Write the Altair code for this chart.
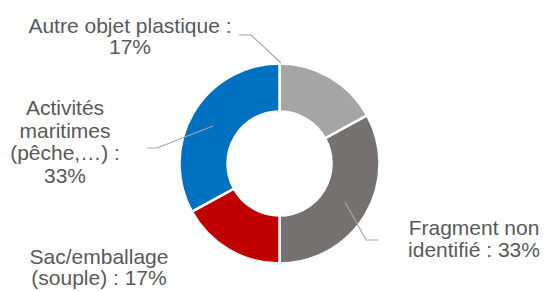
import altair as alt
import pandas as pd

# ---- data ----
categories = ["Autre objet plastique", "Fragment non identifié", "Sac/emballage (souple)", "Activités maritimes (pêche,…)"]
values = [17, 33, 17, 33]
label_texts = [
    ["Autre objet plastique :", "17%"],
    ["Fragment non", "identifié : 33%"],
    ["Sac/emballage", "(souple) : 17%"],
    ["Activités", "maritimes", "(pêche,…) :", "33%"],
]
colors = ["#A5A5A5", "#767171", "#C00000", "#0070C0"]

# ---- layout (page pixel space, converted to chart space by OX/OY) ----
W, H = 533, 283
OX, OY = 8, 8
CX, CY = 279.5 - OX, 163.5 - OY
R_OUT, R_IN = 100, 52
label_pos = [(130, 33), (474, 235), (99, 264), (65, 115)]
line_heights = [21, 21.5, 21, 22.5]
leaders = [
    [(239, 35), (251, 35), (281, 63)],
    [(345, 202), (366, 240), (378, 240)],
    [],
    [(147, 148), (157, 148), (213, 126)],
]

df = pd.DataFrame({"cat": categories, "val": values, "order": list(range(len(values)))})

arcs = alt.Chart(df).mark_arc(
    radius=R_OUT, radius2=R_IN, stroke="white", strokeWidth=2.5
).encode(
    theta=alt.Theta("val:Q", stack=True),
    order=alt.Order("order:Q"),
    color=alt.Color("cat:N", scale=alt.Scale(domain=categories, range=colors), legend=None),
    x=alt.value(CX),
    y=alt.value(CY),
)

rows = []
for i, pts in enumerate(leaders):
    for j, (px, py) in enumerate(pts):
        rows.append({"g": i, "k": j, "px": px - OX, "py": py - OY})
ldf = pd.DataFrame(rows)
lines = alt.Chart(ldf).mark_line(color="#A5A5A5", strokeWidth=1.2).encode(
    x=alt.X("px:Q", scale=None),
    y=alt.Y("py:Q", scale=None),
    detail="g:N",
    order="k:Q",
)

text_layers = []
for (tx, ty), lh, lines_txt in zip(label_pos, line_heights, label_texts):
    t = alt.Chart(pd.DataFrame({"t": [lines_txt]})).mark_text(
        font="Liberation Sans", fontSize=21, color="#595959", align="center",
        baseline="alphabetic", lineHeight=lh,
    ).encode(text="t", x=alt.value(tx - OX), y=alt.value(ty - OY))
    text_layers.append(t)

chart = alt.layer(arcs, lines, *text_layers).properties(
    width=W, height=H, padding=0, autosize=alt.AutoSizeParams(type="none")
).configure_view(stroke=None)

chart.save("out.html", embed_options={"renderer": "svg", "actions": False})
